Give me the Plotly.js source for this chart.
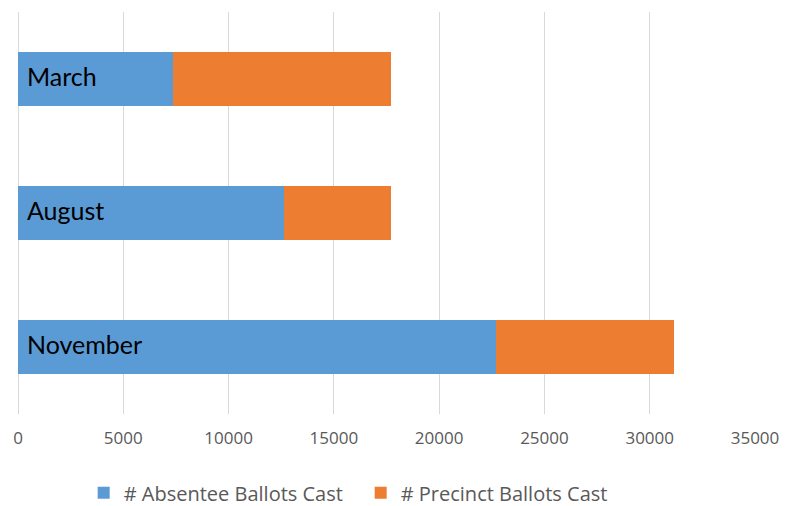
<!DOCTYPE html>
<html><head><meta charset="utf-8">
<script src="https://cdn.plot.ly/plotly-3.0.1.min.js"></script>
<style>html,body{margin:0;padding:0;background:#fff;}#chart{width:797px;height:506px;}</style>
</head><body><div id="chart"></div>
<script>
const categories = ['March', 'August', 'November'];
const absentee = [7370, 12610, 22690];
const precinct = [10320, 5080, 8460];
const seriesNames = ['# Absentee Ballots Cast', '# Precinct Ballots Cast'];
const xTicks = [0, 5000, 10000, 15000, 20000, 25000, 30000, 35000];

const traces = [
  {type:'bar', orientation:'h', y:categories, x:absentee, name:seriesNames[0],
   marker:{color:'#5B9BD5'}, hoverinfo:'x+name'},
  {type:'bar', orientation:'h', y:categories, x:precinct, name:seriesNames[1],
   marker:{color:'#ED7D31'}, hoverinfo:'x+name'}
];

const annotations = categories.map(c => ({
  xref:'paper', yref:'y', x:0, y:c, xanchor:'left', yanchor:'middle',
  xshift:7, yshift:3, text:c, showarrow:false,
  font:{family:'Lato, "Open Sans", sans-serif', size:25, color:'#000'}
}));

const layout = {
  width:797, height:506,
  margin:{l:18, r:42, t:12, b:92},
  barmode:'stack', bargap:0.6,
  paper_bgcolor:'#fff', plot_bgcolor:'#fff',
  xaxis:{range:[0,35000], tickvals:xTicks, ticktext:xTicks.map(String),
    showgrid:true, gridcolor:'#D9D9D9', gridwidth:1,
    zeroline:true, zerolinecolor:'#D9D9D9', zerolinewidth:1, showline:false,
    ticks:'', ticklabelstandoff:12, automargin:false,
    tickfont:{family:'"Open Sans", "Noto Sans", sans-serif', size:17, color:'#595959'}},
  yaxis:{autorange:'reversed', showticklabels:false, showgrid:false, zeroline:false, showline:false, ticks:'', automargin:false},
  showlegend:true,
  legend:{orientation:'h', x:0.105, xanchor:'left', xref:'container',
    y:0.026, yanchor:'middle', yref:'container',
    font:{family:'"Open Sans", "Noto Sans", sans-serif', size:20, color:'#595959'},
    traceorder:'normal', itemwidth:30, tracegroupgap:0, entrywidth:232, entrywidthmode:'pixels'},
  annotations:annotations
};
Plotly.newPlot('chart', traces, layout, {displayModeBar:false, staticPlot:true});
</script></body></html>
